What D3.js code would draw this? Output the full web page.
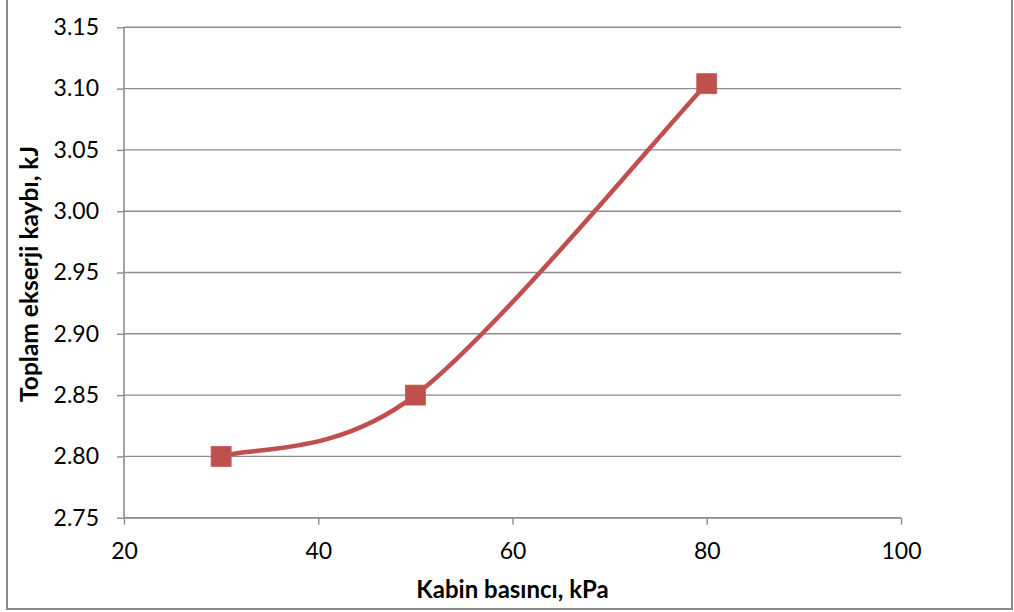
<!DOCTYPE html>
<html>
<head>
<meta charset="utf-8">
<script src="https://cdn.jsdelivr.net/npm/d3@7"></script>
<style>
  html, body { margin: 0; padding: 0; background: #fff; }
  svg { display: block; }
  text { font-family: Lato, "Open Sans", "Liberation Sans", sans-serif; fill: #000; }
</style>
</head>
<body>
<svg id="chart" width="1014" height="612"></svg>
<script>
// Cabin pressure (kPa) vs total exergy loss (kJ)
const pressure = [30, 50, 80];
const exergyLoss = [2.80, 2.85, 3.104];
const xTicks = [20, 40, 60, 80, 100];
const yTicks = [2.75, 2.80, 2.85, 2.90, 2.95, 3.00, 3.05, 3.10, 3.15];
const xTitle = "Kabin basıncı, kPa";
const yTitle = "Toplam ekserji kaybı, kJ";

const svg = d3.select("#chart");
const plot = { left: 124, right: 901, top: 27.3, bottom: 517.7 };
const FONT = "Lato, 'Open Sans', 'Liberation Sans', sans-serif";

// outer chart frame
svg.append("rect")
  .attr("x", 7).attr("y", -2)
  .attr("width", 1005).attr("height", 611)
  .attr("fill", "#fff")
  .attr("stroke", "#898989").attr("stroke-width", 2);

const x = d3.scaleLinear().domain([20, 100]).range([plot.left, plot.right]);
const y = d3.scaleLinear().domain([2.75, 3.15]).range([plot.bottom, plot.top]);

// horizontal gridlines
svg.append("g")
  .selectAll("line")
  .data(yTicks)
  .join("line")
  .attr("x1", plot.left).attr("x2", plot.right)
  .attr("y1", d => y(d)).attr("y2", d => y(d))
  .attr("stroke", "#8c8c8c").attr("stroke-width", 1.4);

// axes
const yAxis = svg.append("g")
  .attr("transform", `translate(${plot.left},0)`)
  .call(d3.axisLeft(y).tickValues(yTicks).tickFormat(d3.format(".2f")).tickSize(7).tickPadding(18));
const xAxis = svg.append("g")
  .attr("transform", `translate(0,${plot.bottom})`)
  .call(d3.axisBottom(x).tickValues(xTicks).tickFormat(d3.format("d")).tickSize(7).tickPadding(18));

[yAxis, xAxis].forEach(g => {
  g.select(".domain").attr("stroke", "#8c8c8c").attr("stroke-width", 1.6);
  g.selectAll(".tick line").attr("stroke", "#8c8c8c").attr("stroke-width", 1.4);
  g.selectAll(".tick text").attr("font-size", 23).attr("fill", "#000")
    .style("font-family", FONT);
});
xAxis.select(".domain").attr("d", `M${plot.left},0H${plot.right}`);
yAxis.select(".domain").attr("d", `M0,${plot.bottom}V${plot.top}`);

// axis titles
svg.append("text")
  .attr("x", (plot.left + plot.right) / 2).attr("y", 598)
  .attr("text-anchor", "middle")
  .attr("font-size", 24).attr("font-weight", "bold")
  .text(xTitle);
svg.append("text")
  .attr("transform", `translate(38,274) rotate(-90)`)
  .attr("text-anchor", "middle")
  .attr("font-size", 24.5).attr("font-weight", "bold")
  .text(yTitle);

// smoothed series line: cubic Bezier segments with 1/6 neighbour tangents,
// end points repeat themselves as their missing neighbours
const pts = pressure.map((p, i) => [x(p), y(exergyLoss[i])]);
const path = d3.path();
path.moveTo(pts[0][0], pts[0][1]);
for (let i = 0; i < pts.length - 1; i++) {
  const p0 = pts[Math.max(i - 1, 0)], p1 = pts[i], p2 = pts[i + 1];
  const p3 = pts[Math.min(i + 2, pts.length - 1)];
  path.bezierCurveTo(
    p1[0] + (p2[0] - p0[0]) / 6, p1[1] + (p2[1] - p0[1]) / 6,
    p2[0] - (p3[0] - p1[0]) / 6, p2[1] - (p3[1] - p1[1]) / 6,
    p2[0], p2[1]);
}
svg.append("path")
  .attr("d", path.toString())
  .attr("fill", "none")
  .attr("stroke", "#C0504D")
  .attr("stroke-width", 4.5)
  .attr("stroke-linejoin", "round");

// square markers
const ms = 20;
svg.append("g")
  .selectAll("rect")
  .data(pts)
  .join("rect")
  .attr("x", d => d[0] - ms / 2)
  .attr("y", d => d[1] - ms / 2)
  .attr("width", ms).attr("height", ms)
  .attr("fill", "#C0504D")
  .attr("stroke", "#C65A57").attr("stroke-width", 0.8);
</script>
</body>
</html>
